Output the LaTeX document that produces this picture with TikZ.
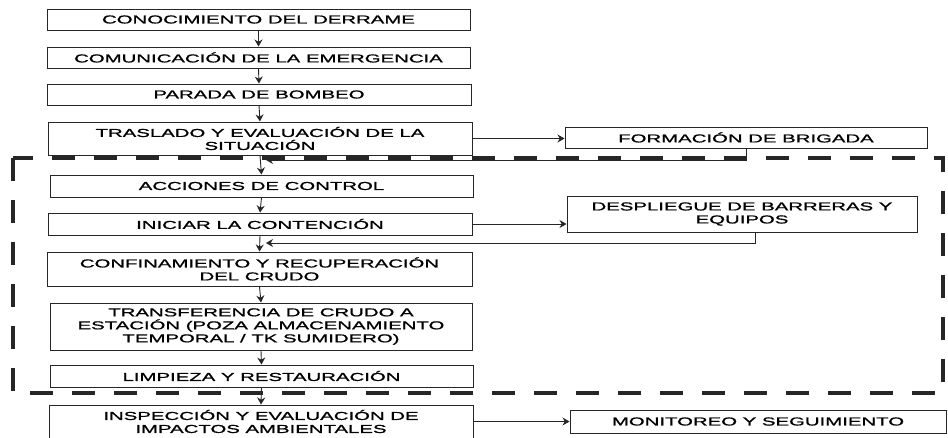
\documentclass[tikz,border=0pt]{standalone}
\usepackage{fontspec}
\setmainfont{Liberation Sans}[FakeStretch=1.77,FakeBold=1.1]
\usetikzlibrary{arrows.meta}
\begin{document}
\begin{tikzpicture}[x=1pt,y=-1pt,
  box/.style={draw=black!85, line width=1pt, rectangle, inner sep=0pt, align=center,
    font=\fontsize{11.5}{13}\selectfont},
  arr/.style={draw=black!85, line width=0.9pt, -{Stealth[length=7pt,width=8pt]}},
  frame/.style={draw=black!85, line width=4pt, dash pattern=on 23pt off 19pt}]
\useasboundingbox (0,0) rectangle (948,437);
\fill[white] (0,0) rectangle (948,437);
\draw[frame] (13,158) rectangle (943,393);
\node[box, minimum width=423, minimum height=21] (b1) at (258.5,19.5) {CONOCIMIENTO DEL DERRAME};
\node[box, minimum width=423, minimum height=21] (b2) at (258.5,57.5) {COMUNICACIÓN DE LA EMERGENCIA};
\node[box, minimum width=424, minimum height=21] (b3) at (259,94.5) {PARADA DE BOMBEO};
\node[box, minimum width=424, minimum height=33] (b4) at (260,138.5) {TRASLADO Y EVALUACIÓN DE LA\\SITUACIÓN};
\node[box, minimum width=423, minimum height=22] (b5) at (261.5,186) {ACCIONES DE CONTROL};
\node[box, minimum width=424, minimum height=22] (b6) at (260,224) {INICIAR LA CONTENCIÓN};
\node[box, minimum width=425, minimum height=34] (b7) at (259.5,269) {CONFINAMIENTO Y RECUPERACIÓN\\DEL CRUDO};
\node[box, minimum width=422, minimum height=47] (b8) at (261,326.5) {TRANSFERENCIA DE CRUDO A\\ESTACIÓN (POZA ALMACENAMIENTO\\TEMPORAL / TK SUMIDERO)};
\node[box, minimum width=423, minimum height=22] (b9) at (261.5,376) {LIMPIEZA Y RESTAURACIÓN};
\node[box, minimum width=424, minimum height=33] (b10) at (261,421.5) {INSPECCIÓN Y EVALUACIÓN DE\\IMPACTOS AMBIENTALES};
\node[box, minimum width=362, minimum height=21] (form) at (746,137.5) {FORMACIÓN DE BRIGADA};
\node[box, minimum width=350, minimum height=36] (desp) at (742,214) {DESPLIEGUE DE BARRERAS Y\\EQUIPOS};
\node[box, minimum width=376, minimum height=23] (moni) at (758,421.5) {MONITOREO Y SEGUIMIENTO};
\coordinate (j1) at (266,160);
\coordinate (j2) at (266,243);
\draw[arr] (b1.south) -- (b2.north);
\draw[arr] (b2.south) -- (b3.north);
\draw[arr] (b3.south) -- (b4.north);
\draw[arr] (b4.south) -- (b5.north);
\draw[arr] (b5.south) -- (b6.north);
\draw[arr] (b6.south) -- (b7.north);
\draw[arr] (b7.south) -- (b8.north);
\draw[arr] (b8.south) -- (b9.north);
\draw[arr] (b9.south) -- (b10.north);
\draw[arr] (b4.east) -- (b4.east -| form.west);
\draw[arr] (form.south) |- (j1);
\draw[arr] (b6.east) -- (b6.east -| desp.west);
\draw[arr] ([xshift=13pt]desp.south) |- (j2);
\draw[arr] (b10.east) -- (b10.east -| moni.west);
\end{tikzpicture}
\end{document}
